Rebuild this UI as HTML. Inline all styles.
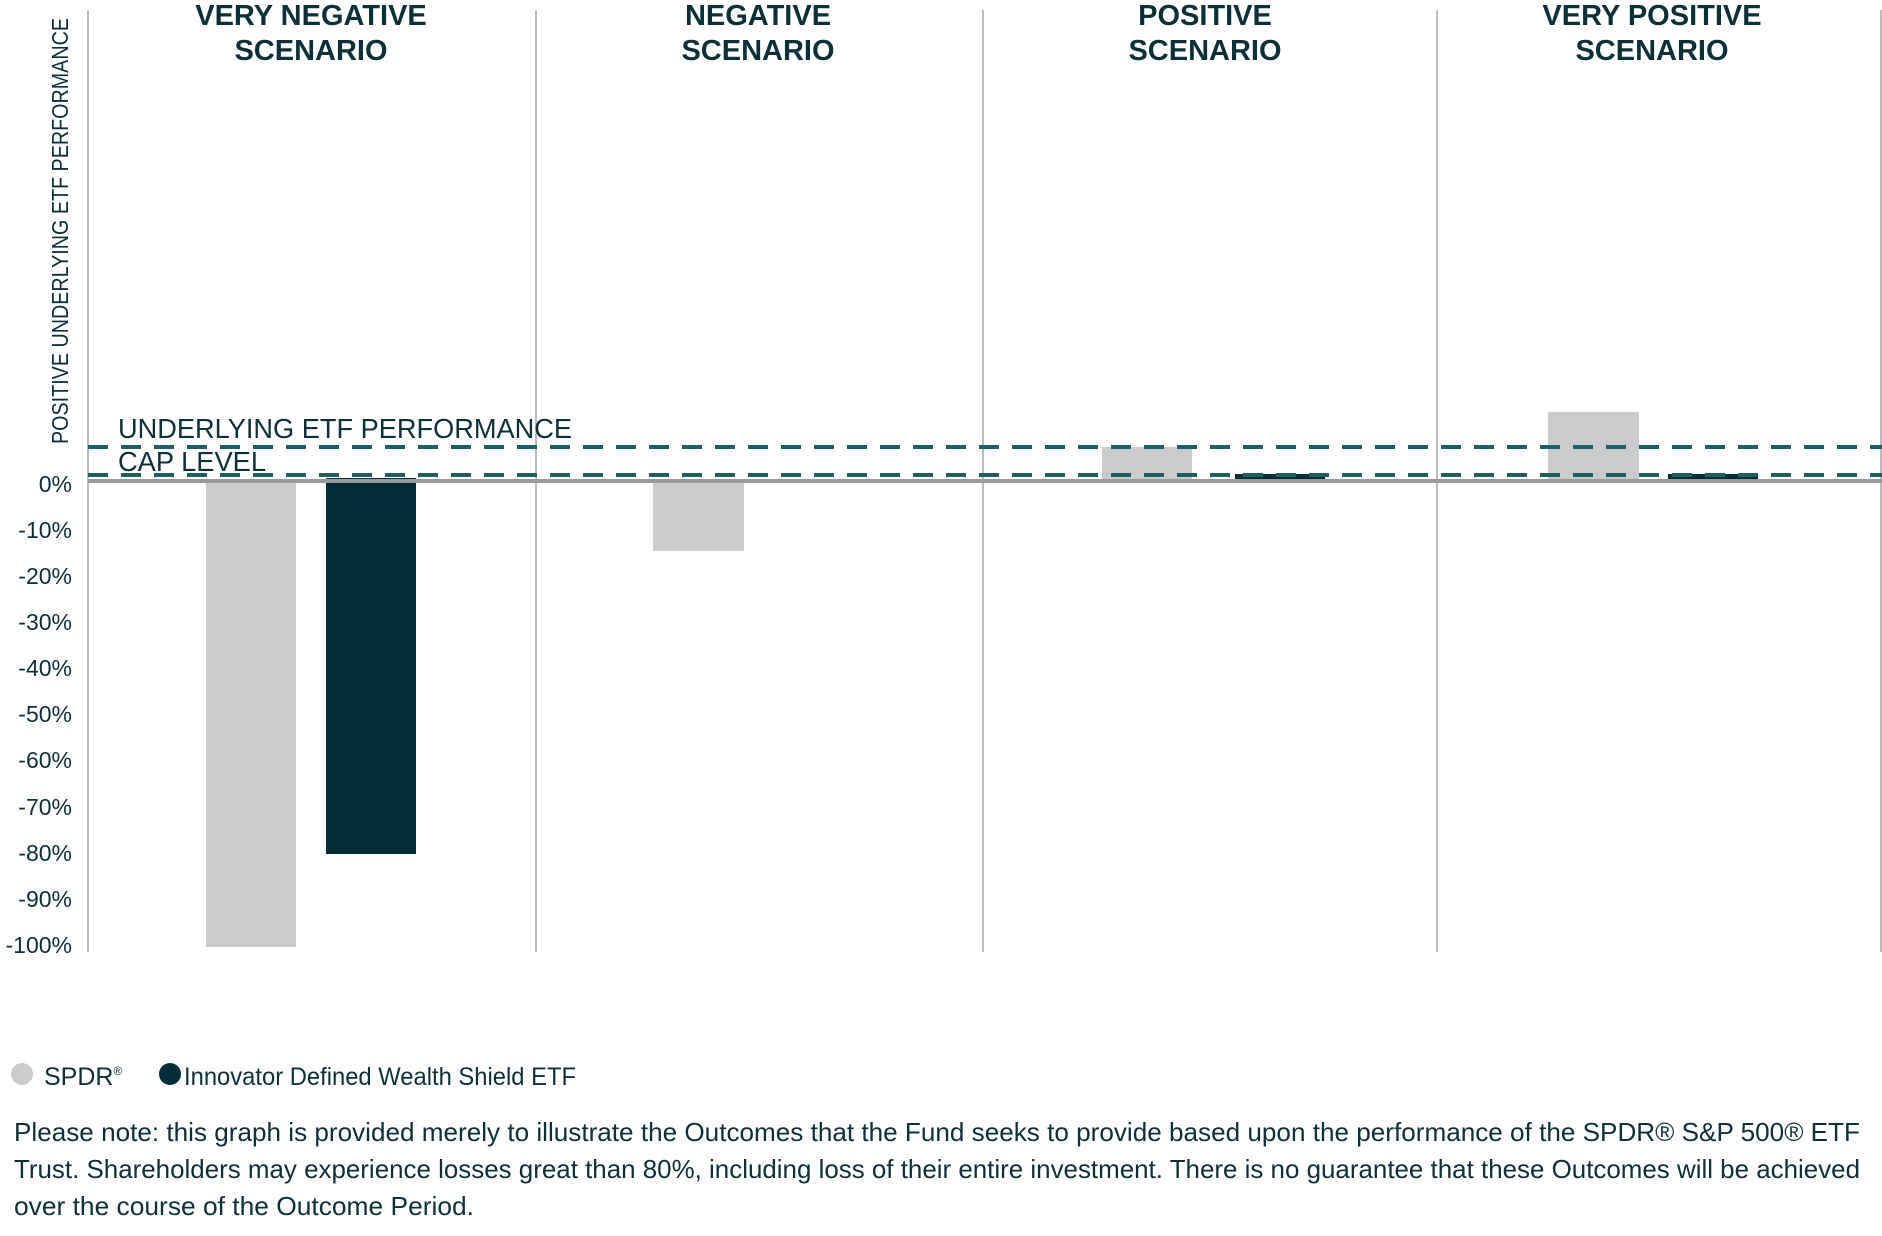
<!DOCTYPE html>
<html><head><meta charset="utf-8"><style>
body{margin:0;background:#fff;}
svg{display:block;font-family:"Liberation Sans",sans-serif;}
</style></head><body>
<svg width="1882" height="1236" viewBox="0 0 1882 1236">
<g stroke="#bdbdbd" stroke-width="2">
<line x1="88" y1="10" x2="88" y2="952"/>
<line x1="536" y1="10" x2="536" y2="952"/>
<line x1="983" y1="10" x2="983" y2="952"/>
<line x1="1437" y1="10" x2="1437" y2="952"/>
<line x1="1881" y1="10" x2="1881" y2="952"/>
</g>
<g fill="#cacbcd">
<rect x="206" y="479" width="90" height="468"/>
<rect x="653" y="479" width="91" height="72"/>
<rect x="1102" y="447" width="90" height="33"/>
<rect x="1548" y="412" width="91" height="68"/>
</g>
<g fill="#032d37">
<rect x="326" y="478" width="90" height="376"/>
<rect x="1235" y="474" width="90" height="6"/>
<rect x="1668" y="474" width="90" height="6"/>
</g>
<line x1="88" y1="481" x2="1882" y2="481" stroke="#9a9a9c" stroke-width="4"/>
<g stroke="#1f5f61" stroke-width="4" stroke-dasharray="20 13">
<line x1="88" y1="447" x2="1882" y2="447"/>
<line x1="88" y1="475" x2="1882" y2="475"/>
</g>
<g fill="#0d3038" font-weight="bold" font-size="29" text-anchor="middle">
<text x="311" y="25">VERY NEGATIVE</text><text x="311" y="60">SCENARIO</text>
<text x="758" y="25">NEGATIVE</text><text x="758" y="60">SCENARIO</text>
<text x="1205" y="25">POSITIVE</text><text x="1205" y="60">SCENARIO</text>
<text x="1652" y="25">VERY POSITIVE</text><text x="1652" y="60">SCENARIO</text>
</g>
<g fill="#0d3038" font-size="28">
<text x="118" y="438" textLength="454" lengthAdjust="spacingAndGlyphs">UNDERLYING ETF PERFORMANCE</text>
<text x="118" y="471" textLength="148" lengthAdjust="spacingAndGlyphs">CAP LEVEL</text>
</g>
<text transform="translate(68,444) rotate(-90)" fill="#0d3038" font-size="23" textLength="426" lengthAdjust="spacingAndGlyphs">POSITIVE UNDERLYING ETF PERFORMANCE</text>
<g fill="#0d3038" font-size="23" text-anchor="end">
<text x="72" y="492">0%</text>
<text x="72" y="538">-10%</text>
<text x="72" y="584">-20%</text>
<text x="72" y="630">-30%</text>
<text x="72" y="676">-40%</text>
<text x="72" y="722">-50%</text>
<text x="72" y="768">-60%</text>
<text x="72" y="815">-70%</text>
<text x="72" y="861">-80%</text>
<text x="72" y="907">-90%</text>
<text x="72" y="953">-100%</text>
</g>
<circle cx="22" cy="1074" r="11" fill="#cacbcd"/>
<circle cx="170" cy="1074" r="11" fill="#032d37"/>
<g fill="#0d3038" font-size="25">
<text x="44" y="1085">SPDR<tspan font-size="12" dy="-10">®</tspan></text>
<text x="184" y="1085" textLength="392" lengthAdjust="spacingAndGlyphs">Innovator Defined Wealth Shield ETF</text>
</g>
<g fill="#0d3038" font-size="26">
<text x="14" y="1141" textLength="1846" lengthAdjust="spacingAndGlyphs">Please note: this graph is provided merely to illustrate the Outcomes that the Fund seeks to provide based upon the performance of the SPDR® S&amp;P 500® ETF</text>
<text x="14" y="1178" textLength="1846" lengthAdjust="spacingAndGlyphs">Trust. Shareholders may experience losses great than 80%, including loss of their entire investment. There is no guarantee that these Outcomes will be achieved</text>
<text x="14" y="1215" textLength="460" lengthAdjust="spacingAndGlyphs">over the course of the Outcome Period.</text>
</g>
</svg>
</body></html>
